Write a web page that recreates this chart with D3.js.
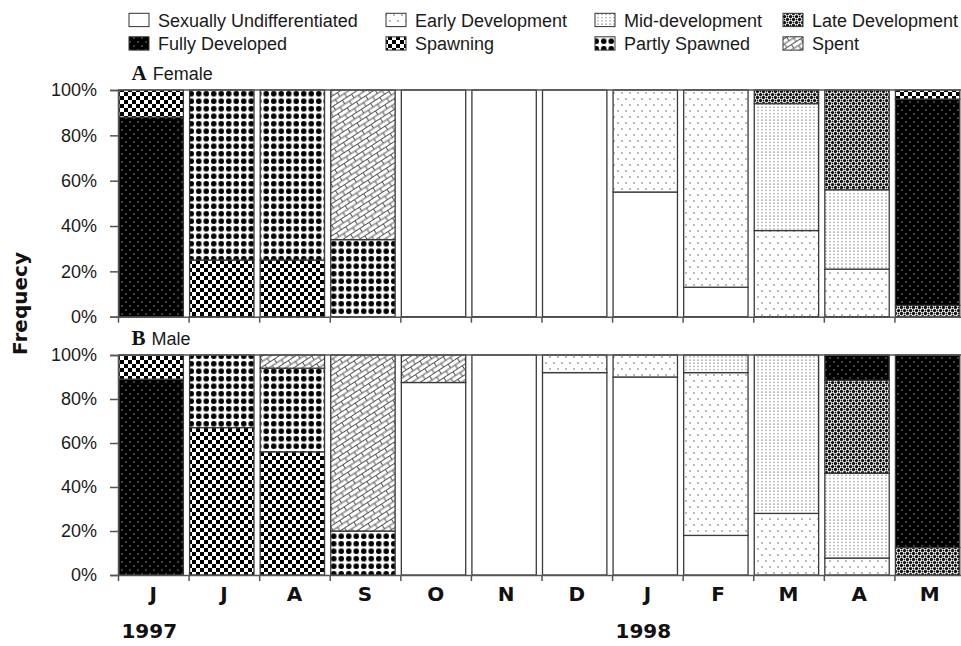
<!DOCTYPE html>
<html>
<head>
<meta charset="utf-8">
<script src="https://cdn.jsdelivr.net/npm/d3@7/dist/d3.min.js"></script>
<style>
  body { margin: 0; background: #fff; }
  svg { display: block; }
</style>
</head>
<body>
<svg id="chart" width="961" height="646"></svg>
<script>
// Monthly gonad stage composition (percent of fish sampled), June 1997 – May 1998
const months = ["J", "J", "A", "S", "O", "N", "D", "J", "F", "M", "A", "M"];
const yearLabels = ["1997", "1998"];
const yearStartMonth = [0, 7];

const stageNames = ["Sexually Undifferentiated", "Early Development", "Mid-development", "Late Development",
                    "Fully Developed", "Spawning", "Partly Spawned", "Spent"];
const stageKeys = ["undiff", "early", "mid", "late", "fully", "spawning", "partly", "spent"];

const percentTicks = [0, 0.2, 0.4, 0.6, 0.8, 1];

// A  Female
const femaleUndiff   = [0, 0, 0, 0, 100, 100, 100, 55, 13, 0, 0, 0];
const femaleEarly    = [0, 0, 0, 0, 0, 0, 0, 45, 87, 38, 21, 0];
const femaleMid      = [0, 0, 0, 0, 0, 0, 0, 0, 0, 56, 35, 0];
const femaleLate     = [0, 0, 0, 0, 0, 0, 0, 0, 0, 6, 44, 5];
const femaleFully    = [88, 0, 0, 0, 0, 0, 0, 0, 0, 0, 0, 91];
const femaleSpawning = [12, 25, 25, 0, 0, 0, 0, 0, 0, 0, 0, 4];
const femalePartly   = [0, 75, 75, 34, 0, 0, 0, 0, 0, 0, 0, 0];
const femaleSpent    = [0, 0, 0, 66, 0, 0, 0, 0, 0, 0, 0, 0];

// B  Male
const maleUndiff   = [0, 0, 0, 0, 87.5, 100, 92, 90, 18, 0, 0, 0];
const maleEarly    = [0, 0, 0, 0, 0, 0, 8, 10, 74, 28, 7.7, 0];
const maleMid      = [0, 0, 0, 0, 0, 0, 0, 0, 8, 72, 38.5, 0];
const maleLate     = [0, 0, 0, 0, 0, 0, 0, 0, 0, 0, 42.3, 12.5];
const maleFully    = [89, 0, 0, 0, 0, 0, 0, 0, 0, 0, 11.5, 87.5];
const maleSpawning = [11, 67, 56, 0, 0, 0, 0, 0, 0, 0, 0, 0];
const malePartly   = [0, 33, 38, 20, 0, 0, 0, 0, 0, 0, 0, 0];
const maleSpent    = [0, 0, 6, 80, 12.5, 0, 0, 0, 0, 0, 0, 0];

const femaleSeries = [femaleUndiff, femaleEarly, femaleMid, femaleLate, femaleFully, femaleSpawning, femalePartly, femaleSpent];
const maleSeries   = [maleUndiff, maleEarly, maleMid, maleLate, maleFully, maleSpawning, malePartly, maleSpent];

function toRows(series) {
  return months.map((m, i) => {
    const row = { i };
    stageKeys.forEach((k, s) => { row[k] = series[s][i] / 100; });
    return row;
  });
}

const svg = d3.select("#chart");
const defs = svg.append("defs");
const SANS = "'Liberation Sans', Arial, Helvetica, sans-serif";
const BOLD = "'DejaVu Sans', 'Liberation Sans', Arial, sans-serif";
const AXIS = "#555";

// ---- fill patterns, one per stage ----
function pattern(id, w, h, bg, transform) {
  const p = defs.append("pattern").attr("id", id)
    .attr("patternUnits", "userSpaceOnUse").attr("width", w).attr("height", h);
  if (transform) p.attr("patternTransform", transform);
  p.append("rect").attr("width", w).attr("height", h).attr("fill", bg);
  return p;
}
pattern("p-undiff", 8, 8, "#fff");

const pEarly = pattern("p-early", 8, 12, "#fff");
[[2, 3], [6, 9]].forEach(([cx, cy]) => pEarly.append("circle").attr("cx", cx).attr("cy", cy).attr("r", 0.75).attr("fill", "#555"));

const pMid = pattern("p-mid", 4, 3.2, "#fff");
pMid.append("circle").attr("cx", 2).attr("cy", 1.6).attr("r", 0.7).attr("fill", "#777");

const pLate = pattern("p-late", 6, 6, "#fff");
[[1.5, 1.5, 1.6], [4.5, 4.5, 1.6], [4.5, 1.5, 0.9], [1.5, 4.5, 0.9]].forEach(([cx, cy, r]) =>
  pLate.append("circle").attr("cx", cx).attr("cy", cy).attr("r", r).attr("fill", "#111"));

const pFully = pattern("p-fully", 8, 8, "#000");
[[2, 2], [6, 6]].forEach(([cx, cy]) => pFully.append("circle").attr("cx", cx).attr("cy", cy).attr("r", 0.7).attr("fill", "#aaa"));

const pSpawn = pattern("p-spawning", 8, 8, "#fff");
[[0, 0], [4, 4]].forEach(([px, py]) => pSpawn.append("rect").attr("x", px).attr("y", py).attr("width", 4).attr("height", 4).attr("fill", "#000"));

const pPartly = pattern("p-partly", 7.5, 7.5, "#fff");
pPartly.append("circle").attr("cx", 3.75).attr("cy", 3.75).attr("r", 2.8).attr("fill", "#000");

const pSpent = pattern("p-spent", 11, 9, "#fff", "rotate(-33)");
pSpent.append("path").attr("d", "M0,0.5H11M0,5H11M1.5,0.5V5M7,5V9.5")
  .attr("stroke", "#555").attr("stroke-width", 1).attr("fill", "none");

// ---- legend ----
const legendCols = [129, 386, 595, 783];
const legendRows = [13.3, 36.8];
const legend = svg.append("g").attr("class", "legend");
stageNames.forEach((name, i) => {
  const lx = legendCols[i % 4], ly = legendRows[Math.floor(i / 4)];
  legend.append("rect").attr("x", lx).attr("y", ly).attr("width", 20).attr("height", 13.3)
    .attr("fill", `url(#p-${stageKeys[i]})`).attr("stroke", "#333").attr("stroke-width", 1);
  legend.append("text").attr("x", lx + 29).attr("y", ly + 13.4)
    .attr("font-family", SANS).attr("font-size", 18).attr("fill", "#1a1a1a").text(name);
});

// ---- scales ----
const x = d3.scaleBand().domain(d3.range(months.length)).range([118, 965]).padding(0);
const xEdge = d3.scaleLinear().domain([0, months.length]).range([118, 965]);
const barInset = 1, barGap = 6.2;

function panel(series, yTop, yBottom, letter, title, showMonths) {
  const y = d3.scaleLinear().domain([0, 1]).range([yBottom, yTop]);
  const g = svg.append("g");
  const stacked = d3.stack().keys(stageKeys)(toRows(series));

  // bars
  stacked.forEach((layer, s) => {
    g.append("g").selectAll("rect")
      .data(layer.filter(d => d[1] - d[0] > 0))
      .join("rect")
      .attr("x", d => x(d.data.i) + barInset)
      .attr("width", x.bandwidth() - barGap)
      .attr("y", d => y(d[1]))
      .attr("height", d => y(d[0]) - y(d[1]))
      .attr("fill", `url(#p-${stageKeys[s]})`)
      .attr("stroke", "#3a3a3a").attr("stroke-width", 1.3);
  });

  // frame line along 100%
  g.append("line").attr("x1", 118).attr("x2", 965).attr("y1", y(1)).attr("y2", y(1))
    .attr("stroke", AXIS).attr("stroke-width", 1.5);

  // y axis
  const ya = g.append("g").attr("transform", "translate(118,0)")
    .call(d3.axisLeft(y).tickValues(percentTicks).tickFormat(d3.format(".0%")).tickSize(8).tickPadding(13));
  ya.selectAll("path, line").attr("stroke", AXIS).attr("stroke-width", 1.5);
  ya.selectAll("text").attr("font-family", SANS).attr("font-size", 18).attr("fill", "#1a1a1a");

  // x axis with ticks at month boundaries
  const xa = g.append("g").attr("transform", `translate(0,${yBottom})`)
    .call(d3.axisBottom(xEdge).tickValues(d3.range(months.length + 1)).tickFormat("").tickSize(6).tickSizeOuter(0));
  xa.selectAll("path, line").attr("stroke", AXIS).attr("stroke-width", 1.5);

  if (showMonths) {
    const ma = g.append("g").attr("transform", `translate(0,${yBottom})`)
      .call(d3.axisBottom(x).tickFormat(i => months[i]).tickSize(0).tickPadding(12));
    ma.select(".domain").remove();
    ma.selectAll("text").attr("font-family", BOLD).attr("font-weight", "bold")
      .attr("font-size", 20).attr("fill", "#111");
  }

  // panel heading
  const head = g.append("text").attr("x", 131.5).attr("y", yTop - 10);
  head.append("tspan").attr("font-family", "'Liberation Serif', 'Times New Roman', serif")
    .attr("font-weight", "bold").attr("font-size", 21).attr("fill", "#111").text(letter);
  head.append("tspan").attr("dx", 6).attr("font-family", SANS).attr("font-size", 18)
    .attr("fill", "#1a1a1a").text(title);
  return y;
}

panel(femaleSeries, 90, 316.7, "A", "Female", false);
panel(maleSeries, 355, 575, "B", "Male", true);

// years under the month labels
svg.append("g").selectAll("text").data(yearLabels).join("text")
  .attr("x", (d, i) => x(yearStartMonth[i]) + x.bandwidth() / 2 - 4)
  .attr("y", 638)
  .attr("text-anchor", "middle")
  .attr("font-family", BOLD).attr("font-weight", "bold").attr("font-size", 20).attr("fill", "#111")
  .text(d => d);

// y axis title
svg.append("text")
  .attr("transform", "translate(27,303.5) rotate(-90)")
  .attr("text-anchor", "middle")
  .attr("font-family", BOLD).attr("font-weight", "bold").attr("font-size", 20).attr("fill", "#111")
  .text("Frequecy");
</script>
</body>
</html>
